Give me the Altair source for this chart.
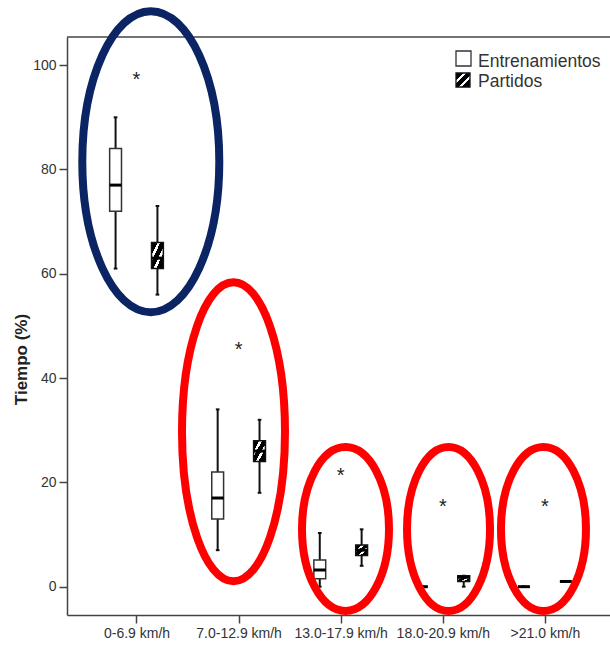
import json
import altair as alt
import pandas as pd

# ---------------- data ----------------
categories = ["0-6.9 km/h", "7.0-12.9 km/h", "13.0-17.9 km/h", "18.0-20.9 km/h", ">21.0 km/h"]
groups = ["Entrenamientos", "Partidos"]

ent_min = [61.0, 7.0, 0.0, 0.0, 0.0]
ent_q1 = [72.0, 13.0, 1.5, 0.0, 0.0]
ent_med = [77.0, 17.0, 3.2, 0.0, 0.0]
ent_q3 = [84.0, 22.0, 5.1, 0.0, 0.0]
ent_max = [90.0, 34.0, 10.3, 0.0, 0.0]

par_min = [56.0, 18.0, 4.0, 0.0, 1.0]
par_q1 = [61.0, 24.0, 6.0, 1.0, 1.0]
par_med = [63.0, 26.0, 7.0, 1.8, 1.0]
par_q3 = [66.0, 28.0, 8.0, 2.1, 1.0]
par_max = [73.0, 32.0, 11.0, 2.1, 1.0]

extreme_values = [98.2, 46.3, 22.2, 16.2, 16.2]

# annotation ellipses (centre category position, centre value, radii in px, colour)
ell_pos = [1.14, 1.95, 3.047, 4.056, 4.986]
ell_val = [81.5, 29.7, 11.06, 11.06, 11.06]
ell_rx = [68.5, 51.5, 43.5, 41.5, 42.5]
ell_ry = [150.5, 149.5, 82.0, 82.0, 82.0]
ell_col = ["#0a2464", "#ff0000", "#ff0000", "#ff0000", "#ff0000"]

# ---------------- tables ----------------
rows = []
stats = {
    "Entrenamientos": (ent_min, ent_q1, ent_med, ent_q3, ent_max),
    "Partidos": (par_min, par_q1, par_med, par_q3, par_max),
}
for i, cat in enumerate(categories):
    for g in groups:
        mn, q1, md, q3, mx = (s[i] for s in stats[g])
        rows.append(dict(cat=cat, idx=i + 1, group=g, lo=mn, q1=q1, med=md, q3=q3, hi=mx))
box_df = pd.DataFrame(rows)

star_df = pd.DataFrame({"idx": list(range(1, len(categories) + 1)), "v": extreme_values})


def ellipse_path(a):
    k = 0.5523
    return (f"M{a},0 C{a},{k} {a*k},1 0,1 C{-a*k},1 {-a},{k} {-a},0 "
            f"C{-a},{-k} {-a*k},-1 0,-1 C{a*k},-1 {a},{-k} {a},0 Z")


ell_df = pd.DataFrame({
    "pos": ell_pos,
    "v": ell_val,
    "path": [ellipse_path(rx / ry) for rx, ry in zip(ell_rx, ell_ry)],
    "sz": [(2 * max(rx, ry)) ** 2 for rx, ry in zip(ell_rx, ell_ry)],
    "col": ell_col,
})

# ---------------- scales & axes ----------------
W, H = 543, 578
xscale = alt.Scale(domain=[0.3193, 5.6376], nice=False, zero=False)
yscale = alt.Scale(domain=[-5.43, 105.4], nice=False, zero=False)

label_expr = f"{json.dumps(categories)}[datum.value - 1]"
x_axis = alt.Axis(values=[1, 2, 3, 4, 5], labelExpr=label_expr, title=None,
                  orient="bottom", labelPadding=3)
y_axis = alt.Axis(values=[0, 20, 40, 60, 80, 100], title="Tiempo (%)", orient="left",
                  titleX=-41, titleY=322, titleAlign="center",
                  titleBaseline="alphabetic", labelPadding=3)


def X(f):
    return alt.X(f, scale=xscale, axis=x_axis, title=None)


def Y(f):
    return alt.Y(f, scale=yscale, axis=y_axis, title="Tiempo (%)")


base = alt.Chart(box_df).transform_calculate(
    pos="datum.idx + (datum.group == 'Entrenamientos' ? -0.205 : 0.205)"
).transform_calculate(
    xl="datum.pos - 0.058", xr="datum.pos + 0.058",
    cl="datum.pos - 0.018", cr="datum.pos + 0.018",
)

whiskers = base.mark_rule(color="#111", strokeWidth=2).encode(
    x=X("pos:Q"), y=Y("lo:Q"), y2="hi:Q",
)
caps_lo = base.mark_rule(color="#111", strokeWidth=2).encode(
    x=X("cl:Q"), x2="cr:Q", y=Y("lo:Q"),
)
caps_hi = base.mark_rule(color="#111", strokeWidth=2).encode(
    x=X("cl:Q"), x2="cr:Q", y=Y("hi:Q"),
)

hatch = alt.LinearGradient(
    gradient="linear", x1=0, y1=0, x2=1, y2=1,
    stops=[
        alt.GradientStop(color="#000000", offset=0),
        alt.GradientStop(color="#000000", offset=0.25),
        alt.GradientStop(color="#ffffff", offset=0.25),
        alt.GradientStop(color="#ffffff", offset=0.37),
        alt.GradientStop(color="#000000", offset=0.37),
        alt.GradientStop(color="#000000", offset=0.58),
        alt.GradientStop(color="#ffffff", offset=0.58),
        alt.GradientStop(color="#ffffff", offset=0.70),
        alt.GradientStop(color="#000000", offset=0.70),
        alt.GradientStop(color="#000000", offset=1),
    ],
)

box_ent = base.transform_filter("datum.group == 'Entrenamientos'").mark_rect(
    fill="white", stroke="#333", strokeWidth=1.5
).encode(x=X("xl:Q"), x2="xr:Q", y=Y("q1:Q"), y2="q3:Q")
box_par = base.transform_filter("datum.group == 'Partidos'").mark_rect(
    fill=hatch, stroke="#111", strokeWidth=1.5
).encode(x=X("xl:Q"), x2="xr:Q", y=Y("q1:Q"), y2="q3:Q")

medians = base.mark_rule(color="#000", strokeWidth=3).encode(
    x=X("xl:Q"), x2="xr:Q", y=Y("med:Q"),
)

stars = alt.Chart(star_df).mark_text(
    text="*", fontSize=20, font="Liberation Sans", color="#222",
    baseline="alphabetic", dy=11
).encode(x=X("idx:Q"), y=Y("v:Q"))

top_frame = alt.Chart(pd.DataFrame({"a": [0]})).mark_rule(color="#444", strokeWidth=1.5).encode(
    x=alt.value(0), x2=alt.value(W), y=alt.value(0)
)

# legend (drawn manually to show the hatched swatch)
leg_df = pd.DataFrame({"g": groups})
leg_box1 = alt.Chart(leg_df).transform_filter(f"datum.g == '{groups[0]}'").mark_rect(
    fill="white", stroke="#333", strokeWidth=1.3
).encode(x=alt.value(389), x2=alt.value(404), y=alt.value(14), y2=alt.value(29))
leg_box2 = alt.Chart(leg_df).transform_filter(f"datum.g == '{groups[1]}'").mark_rect(
    fill=hatch, stroke="#111", strokeWidth=1.3
).encode(x=alt.value(389), x2=alt.value(403), y=alt.value(36), y2=alt.value(50))
leg_txt1 = alt.Chart(leg_df).transform_filter(f"datum.g == '{groups[0]}'").mark_text(
    align="left", baseline="alphabetic", fontSize=17.5, font="Liberation Sans", color="#333"
).encode(x=alt.value(411), y=alt.value(30), text="g:N")
leg_txt2 = alt.Chart(leg_df).transform_filter(f"datum.g == '{groups[1]}'").mark_text(
    align="left", baseline="alphabetic", fontSize=17.5, font="Liberation Sans", color="#333"
).encode(x=alt.value(411), y=alt.value(50), text="g:N")

ellipses = alt.Chart(ell_df).mark_point(filled=False, strokeWidth=8, opacity=1).encode(
    x=X("pos:Q"), y=Y("v:Q"),
    shape=alt.Shape("path:N", scale=None),
    size=alt.Size("sz:Q", scale=None),
    color=alt.Color("col:N", scale=None),
)

chart = alt.layer(
    top_frame, whiskers, caps_lo, caps_hi, box_ent, box_par, medians, stars,
    leg_box1, leg_box2, leg_txt1, leg_txt2, ellipses
).properties(
    width=W, height=H,
    autosize=alt.AutoSizeParams(type="none"),
    padding={"left": 67, "top": 37, "right": 0, "bottom": 31},
).configure_view(stroke=None).configure_axis(
    grid=False,
    domainColor="#444", domainWidth=1.5,
    tickColor="#444", tickWidth=1.5, tickSize=8,
    labelFont="Liberation Sans", labelFontSize=14, labelColor="#333",
    titleFont="Liberation Sans", titleFontSize=17, titleFontWeight="bold", titleColor="#222",
)

chart.save("out.html", embed_options={"renderer": "svg", "actions": False})
